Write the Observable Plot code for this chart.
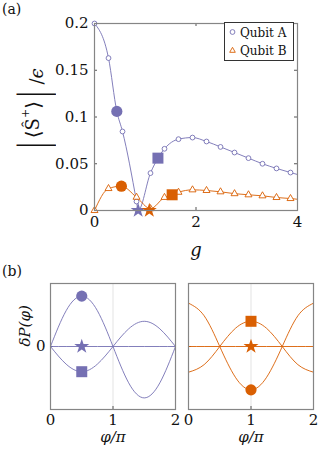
<!DOCTYPE html>
<html><head><meta charset="utf-8">
<script src="https://cdn.jsdelivr.net/npm/d3@7"></script>
<script src="https://cdn.jsdelivr.net/npm/@observablehq/plot@0.6"></script>
<style>
body{margin:0;background:#fff;}
#root{position:relative;width:332px;height:454px;overflow:hidden;font-family:'DejaVu Serif','Liberation Serif',serif;color:#111;}
.abs{position:absolute;}
.abs svg{display:block;}
</style></head><body><div id="root"></div>
<script>
// ---------- Panel (a) data ----------
const gMarkers = [0, 0.276, 0.552, 0.828, 1.103, 1.379, 1.655, 1.931, 2.207, 2.483, 2.759, 3.034, 3.310, 3.586, 3.862];
const qubitA   = [0.200, 0.163, 0.0845, 0.0096, 0.040, 0.066, 0.0763, 0.078, 0.0738, 0.068, 0.062, 0.056, 0.050, 0.045, 0.0406];
const qubitB   = [0.000, 0.0235, 0.0258, 0.0142, 0.002, 0.014, 0.0195, 0.0221, 0.0214, 0.020, 0.018, 0.0168, 0.0157, 0.0139, 0.0128];
// curve points (markers plus highlighted states, minimum and end)
const gLineA   = [0, 0.276, 0.44, 0.552, 0.828, 0.86, 1.103, 1.25, 1.379, 1.655, 1.931, 2.207, 2.483, 2.759, 3.034, 3.310, 3.586, 3.862, 4];
const lineA    = [0.200, 0.163, 0.106, 0.0845, 0.0096, 0.0, 0.040, 0.056, 0.066, 0.0763, 0.078, 0.0738, 0.068, 0.062, 0.056, 0.050, 0.045, 0.0406, 0.0385];
const gLineB   = [0, 0.276, 0.53, 0.828, 1.103, 1.379, 1.53, 1.655, 1.931, 2.207, 2.483, 2.759, 3.034, 3.310, 3.586, 3.862, 4];
const lineB    = [0.000, 0.0235, 0.026, 0.0142, 0.002, 0.014, 0.0168, 0.0195, 0.0221, 0.0214, 0.020, 0.018, 0.0168, 0.0157, 0.0139, 0.0128, 0.012];
// highlighted states
const specialShape = ["circle", "square", "star"];
const specialGA = [0.44, 1.25, 0.86];
const specialA  = [0.106, 0.056, 0.0];
const specialGB = [0.53, 1.53, 1.08];
const specialB  = [0.026, 0.0168, 0.0];
const xTicksA = [0, 2, 4];
const yTicksA = [0, 0.05, 0.1, 0.15, 0.2];
const seriesNames = ["Qubit A", "Qubit B"];

// ---------- Panel (b) data ----------
const phi = [0, 0.25, 0.5, 0.75, 1, 1.25, 1.5, 1.75, 2];
const dPA = {
  circle: [0, 0.71, 1.0, 0.71, 0, -0.72, -1.02, -0.72, 0],
  square: [0, -0.35, -0.5, -0.35, 0, 0.35, 0.5, 0.35, 0],
  star:   [0, 0, 0, 0, 0, 0, 0, 0, 0]
};
const dPB = {
  circle: [0.86, 0.61, 0, -0.61, -0.86, -0.61, 0, 0.61, 0.86],
  square: [-0.51, -0.36, 0, 0.36, 0.5, 0.36, 0, -0.36, -0.51],
  star:   [0, 0, 0, 0, 0, 0, 0, 0, 0]
};
const markPhiA = 0.5, markPhiB = 1;
const markA = [1.0, -0.5, 0];   // circle, square, star
const markB = [-0.86, 0.5, 0];
const xTicksB = [0, 1, 2];
const yTicksB = [0];

const BLUE = "#7570b3", ORANGE = "#d95f02", FRAME = "#858585";
const FONT = "'DejaVu Serif', 'Liberation Serif', serif";
const root = document.getElementById("root");
function place(el, left, top) { const d = document.createElement("div"); d.className = "abs"; d.style.left = left + "px"; d.style.top = top + "px"; d.appendChild(el); root.appendChild(d); return d; }
function html(s, left, top, css) { const d = document.createElement("div"); d.className = "abs"; d.style.left = left + "px"; d.style.top = top + "px"; d.innerHTML = s; if (css) d.style.cssText += css; root.appendChild(d); return d; }

// ---------- Panel (a) ----------
const wA = 332, hA = 265, mL = 94, mR = 35, mT = 23, mB = 55;
const pw = wA - mL - mR, ph = hA - mT - mB;
const rowsA = gMarkers.map((g, i) => ({g, v: qubitA[i]}));
const rowsB = gMarkers.map((g, i) => ({g, v: qubitB[i]}));
const lA = gLineA.map((g, i) => ({g, v: lineA[i]}));
const lB = gLineB.map((g, i) => ({g, v: lineB[i]}));
const spA = specialShape.map((s, i) => ({s, g: specialGA[i], v: specialA[i]}));
const spB = specialShape.map((s, i) => ({s, g: specialGB[i], v: specialB[i]}));
const rOf = s => s === "circle" ? 5.6 : s === "square" ? 6.2 : 4.7;

const plotA = Plot.plot({
  width: wA, height: hA, marginLeft: mL, marginRight: mR, marginTop: mT, marginBottom: mB,
  style: {fontFamily: FONT, fontSize: "15px", background: "transparent", color: "#111"},
  x: {domain: [0, 4], label: null},
  y: {domain: [0, 0.2], label: null},
  r: {type: "identity"},
  marks: [
    Plot.tickX(xTicksA, {x: d => d, stroke: "#555", insetTop: ph - 3}),
    Plot.tickX(xTicksA, {x: d => d, stroke: "#555", insetBottom: ph - 3}),
    Plot.tickY(yTicksA, {y: d => d, stroke: "#555", insetRight: pw - 3}),
    Plot.tickY(yTicksA, {y: d => d, stroke: "#555", insetLeft: pw - 3}),
    Plot.axisX(xTicksA, {tickSize: 0, tickPadding: 6, tickFormat: d => String(d), label: null, fontSize: 15}),
    Plot.axisY(yTicksA, {tickSize: 0, tickPadding: 6, tickFormat: d => String(d), label: null, fontSize: 15}),
    Plot.line(lA, {x: "g", y: "v", stroke: BLUE, strokeWidth: 0.9, curve: "monotone-x"}),
    Plot.line(lB, {x: "g", y: "v", stroke: ORANGE, strokeWidth: 0.9, curve: "monotone-x"}),
    Plot.dot(rowsA, {x: "g", y: "v", r: 2.4, stroke: BLUE, fill: "white", strokeWidth: 0.9, symbol: "circle"}),
    Plot.dot(rowsB, {x: "g", y: "v", r: 2.6, stroke: ORANGE, fill: "white", strokeWidth: 0.9, symbol: "triangle"}),
    Plot.dot(spA, {x: "g", y: "v", symbol: "s", r: d => rOf(d.s), fill: BLUE, stroke: "none"}),
    Plot.dot(spB, {x: "g", y: "v", symbol: "s", r: d => rOf(d.s), fill: ORANGE, stroke: "none"}),
    Plot.frame({stroke: FRAME, strokeWidth: 1.2}),
    Plot.text(["g"], {frameAnchor: "bottom", dy: 45, fontStyle: "italic", fontSize: 18, text: d => d})
  ]
});
place(plotA, 0, 0);

// legend
html(`<div style="width:70px;height:39px;border:1px solid #333;background:#fff;font-size:12px;line-height:18px;padding-top:1px;box-sizing:border-box;">
<div style="white-space:nowrap"><svg width="15" height="12" style="display:inline-block;vertical-align:-1px"><circle cx="7.5" cy="6" r="2.4" fill="white" stroke="${BLUE}" stroke-width="0.9"/></svg>${seriesNames[0]}</div>
<div style="white-space:nowrap"><svg width="15" height="12" style="display:inline-block;vertical-align:-1px"><path d="M7.5,3.3L10.3,8.3L4.7,8.3Z" fill="white" stroke="${ORANGE}" stroke-width="0.9"/></svg>${seriesNames[1]}</div>
</div>`, 224, 22);

// y label (a)
html(`<div style="width:90px;height:46px;display:flex;align-items:center;justify-content:center;transform:rotate(-90deg);white-space:nowrap;font-size:18px;line-height:1;">
<span style="font-size:40px;transform:scaleX(0.45);display:inline-block;">|</span><span style="font-size:20px;">⟨</span><span>Ŝ</span><span style="font-size:11px;position:relative;top:-8px;">+</span><span style="font-size:20px;">⟩</span><span style="font-size:40px;transform:scaleX(0.45);display:inline-block;">|</span><span style="margin-left:3px;position:relative;top:4px;">/<i>ϵ</i></span></div>`, -12, 87);

html("(a)", 2, 1, "font-size:14px;");
html("(b)", 2, 263, "font-size:14px;");

// ---------- Panel (b) ----------
function panelB(data, markPhi, markVals, color, showY, w, mLeft, mRight) {
  const rows = [];
  for (const k of ["circle", "square", "star"]) phi.forEach((p, i) => rows.push({k, p, v: data[k][i]}));
  const marks = specialShape.map((s, i) => ({s, p: markPhi, v: markVals[i]}));
  const hB = 184, mTop = 13, mBot = 45, pH = hB - mTop - mBot, pW = w - mLeft - mRight;
  return Plot.plot({
    width: w, height: hB, marginLeft: mLeft, marginRight: mRight, marginTop: mTop, marginBottom: mBot,
    style: {fontFamily: FONT, fontSize: "15px", background: "transparent", color: "#111"},
    x: {domain: [0, 2], label: null},
    y: {domain: [-1.25, 1.25], label: null, axis: null},
    r: {type: "identity"},
    marks: [
      Plot.ruleX([1], {stroke: "#dcdcdc", strokeWidth: 0.8}),
      Plot.tickX(xTicksB, {x: d => d, stroke: "#555", insetTop: pH - 3}),
      Plot.axisX(xTicksB, {tickSize: 0, tickPadding: 5, tickFormat: d => String(d), label: null, fontSize: 15}),
      showY ? Plot.axisY(yTicksB, {tickSize: 0, tickPadding: 5, tickFormat: d => String(d), label: null, fontSize: 15}) : null,
      Plot.tickY(yTicksB, {y: d => d, stroke: "#555", insetRight: pW - 3}),
      Plot.line(rows, {x: "p", y: "v", z: "k", stroke: color, strokeWidth: 0.9, curve: "natural"}),
      Plot.dot(marks, {x: "p", y: "v", symbol: "s", r: d => rOf(d.s), fill: color, stroke: "none"}),
      Plot.frame({stroke: FRAME, strokeWidth: 1.2}),
      Plot.text(["φ/π"], {frameAnchor: "bottom", dy: 32, fontStyle: "italic", fontSize: 15, text: d => d}),
      showY ? Plot.text(["δP(φ)"], {frameAnchor: "left", dx: -25, rotate: -90, fontStyle: "italic", fontSize: 15, text: d => d}) : null
    ].filter(Boolean)
  });
}
place(panelB(dPA, markPhiA, markA, BLUE, true, 190, 50, 15), 0, 270);
place(panelB(dPB, markPhiB, markB, ORANGE, false, 150, 8, 17), 180, 270);
</script></body></html>
